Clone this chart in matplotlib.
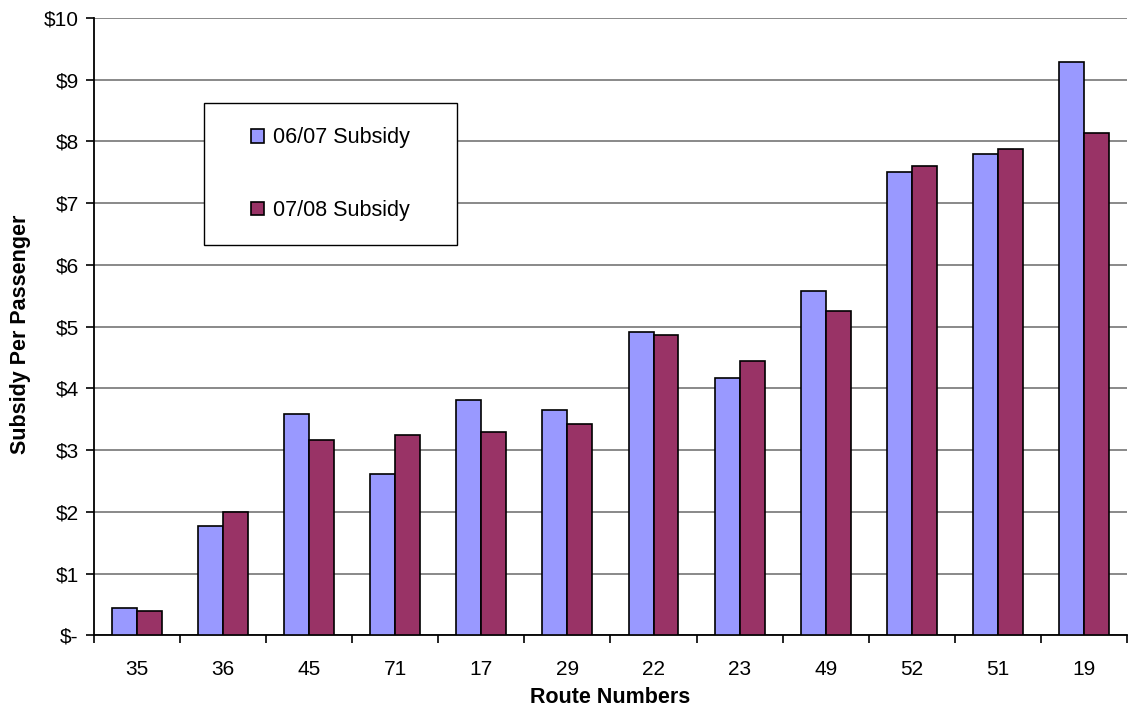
import numpy as np
import matplotlib
matplotlib.use('Agg')
import matplotlib.pyplot as plt
from matplotlib.patches import Rectangle

routes = ['35', '36', '45', '71', '17', '29', '22', '23', '49', '52', '51', '19']
subsidy_0607 = [0.45, 1.78, 3.59, 2.62, 3.82, 3.65, 4.91, 4.17, 5.58, 7.51, 7.80, 9.29]
subsidy_0708 = [0.39, 2.00, 3.17, 3.24, 3.30, 3.42, 4.87, 4.44, 5.26, 7.61, 7.87, 8.13]
series_names = ['06/07 Subsidy', '07/08 Subsidy']
y_ticks = [0, 1, 2, 3, 4, 5, 6, 7, 8, 9, 10]
y_tick_labels = ['$-', '$1', '$2', '$3', '$4', '$5', '$6', '$7', '$8', '$9', '$10']

plt.rcParams['font.family'] = ['Liberation Sans', 'DejaVu Sans']

fig = plt.figure(figsize=(11.28, 7.1), dpi=100)
ax = fig.add_axes([0.0833, 0.105, 0.9158, 0.8697])

x = np.arange(len(routes))
w = 0.29
bars1 = ax.bar(x - w / 2, subsidy_0607, w, color='#9999FF', edgecolor='black',
               linewidth=1.2, zorder=3, label=series_names[0])
bars2 = ax.bar(x + w / 2, subsidy_0708, w, color='#993366', edgecolor='black',
               linewidth=1.2, zorder=3, label=series_names[1])

ax.set_xlim(-0.5, len(routes) - 0.5)
ax.set_ylim(0, 10)
ax.set_yticks(y_ticks)
ax.set_yticklabels(y_tick_labels, fontsize=15)
ax.yaxis.grid(True, color='#808080', linewidth=1.3, zorder=0)
ax.set_axisbelow(True)

# category labels centred, tick marks between the groups
ax.set_xticks(x)
ax.set_xticklabels(routes, fontsize=15)
ax.tick_params(axis='x', which='major', length=0, pad=18)
ax.set_xticks(np.arange(-0.5, len(routes)), minor=True)
ax.tick_params(axis='x', which='minor', length=6, width=1.2, direction='out')
ax.tick_params(axis='y', length=6, width=1.2, direction='out', pad=5)

for side in ['top', 'right']:
    ax.spines[side].set_visible(False)
for side in ['left', 'bottom']:
    ax.spines[side].set_linewidth(1.3)

ax.set_xlabel('Route Numbers', fontsize=15.5, fontweight='bold')
ax.xaxis.set_label_coords(0.5, -0.084)
ax.set_ylabel('Subsidy Per Passenger', fontsize=15.5, fontweight='bold')
ax.yaxis.set_label_coords(-0.061, 0.488)

# legend box
ax.add_patch(Rectangle((0.1064, 0.632), 0.2447, 0.230, transform=ax.transAxes,
                       facecolor='white', edgecolor='black', linewidth=1.0, zorder=4))
ax.legend(handles=[bars1, bars2], loc='center', bbox_to_anchor=(0.229, 0.747),
          frameon=False, fontsize=15.5, labelspacing=2.4, handlelength=0.6,
          handleheight=0.6, handletextpad=0.4)

fig.savefig('out.png', dpi=100)
